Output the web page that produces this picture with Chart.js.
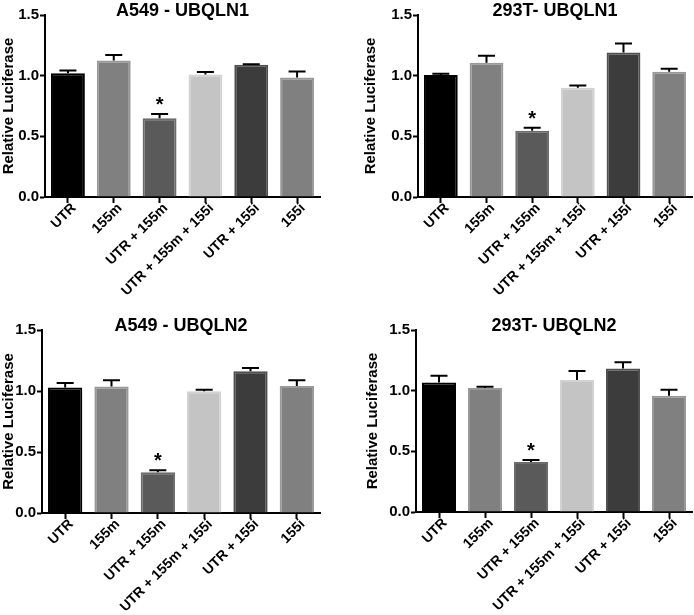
<!DOCTYPE html>
<html>
<head>
<meta charset="utf-8">
<script src="https://cdn.jsdelivr.net/npm/chart.js@4"></script>
<style>
    html, body { margin: 0; padding: 0; background: #ffffff; overflow: hidden; }
    body { width: 694px; height: 615px; position: relative; }
    canvas { position: absolute; }
</style>
</head>
<body>
<canvas id="p1"></canvas>
<canvas id="p2"></canvas>
<canvas id="p3"></canvas>
<canvas id="p4"></canvas>
<script>
// Groups on the x axis
const categories = ['UTR', '155m', 'UTR + 155m', 'UTR + 155m + 155i', 'UTR + 155i', '155i'];

// Mean relative luciferase and SEM per panel
const a549Ubqln1 = [1.02, 1.125, 0.65, 1.01, 1.09, 0.985];
const a549Ubqln1Err = [0.022, 0.045, 0.035, 0.02, 0.005, 0.05];

const t293Ubqln1 = [1.005, 1.107, 0.545, 0.90, 1.19, 1.033];
const t293Ubqln1Err = [0.01, 0.057, 0.025, 0.018, 0.075, 0.024];

const a549Ubqln2 = [1.028, 1.036, 0.334, 0.997, 1.161, 1.041];
const a549Ubqln2Err = [0.038, 0.052, 0.016, 0.014, 0.028, 0.047];

const t293Ubqln2 = [1.068, 1.022, 0.412, 1.088, 1.183, 0.959];
const t293Ubqln2Err = [0.055, 0.011, 0.017, 0.074, 0.052, 0.049];

// Groups marked with * (significant)
const significant = [2];

// Y axis ticks
const yTicks = [0, 0.5, 1.0, 1.5];

const barColors = ['#000000', '#808080', '#5a5a5a', '#c4c4c4', '#3c3c3c', '#808080'];
const barBorders = ['#000000', '#999999', '#6c6c6c', '#d2d2d2', '#505050', '#999999'];

const FONT = "'Liberation Sans', Arial, Helvetica, sans-serif";

// Draw SEM whiskers (upper only) and significance stars
const errorBarPlugin = {
    id: 'errorBars',
    afterDatasetsDraw(chart, args, opts) {
        const ctx = chart.ctx;
        const xs = chart.scales.x;
        const ys = chart.scales.y;
        const values = chart.data.datasets[0].data;
        ctx.save();
        ctx.strokeStyle = '#000000';
        ctx.lineWidth = 2;
        values.forEach((v, i) => {
            const px = xs.getPixelForValue(i);
            const base = ys.getPixelForValue(v);
            const top = ys.getPixelForValue(v + opts.errors[i]);
            ctx.beginPath();
            ctx.moveTo(px, base);
            ctx.lineTo(px, top);
            ctx.moveTo(px - 8.5, top);
            ctx.lineTo(px + 8.5, top);
            ctx.stroke();
        });
        ctx.fillStyle = '#000000';
        ctx.font = 'bold 20px ' + FONT;
        ctx.textAlign = 'center';
        ctx.textBaseline = 'alphabetic';
        opts.marks.forEach(i => {
            const px = xs.getPixelForValue(i);
            const top = ys.getPixelForValue(values[i] + opts.errors[i]);
            ctx.fillText('*', px, top - 3);
        });
        ctx.restore();
    }
};

function makePanel(id, box, title, values, errors) {
    const canvas = document.getElementById(id);
    canvas.width = box.width;
    canvas.height = box.height;
    canvas.style.left = box.left + 'px';
    canvas.style.top = box.top + 'px';
    canvas.style.width = box.width + 'px';
    canvas.style.height = box.height + 'px';

    return new Chart(canvas.getContext('2d'), {
        type: 'bar',
        data: {
            labels: categories,
            datasets: [{
                data: values,
                backgroundColor: barColors,
                borderColor: barBorders,
                borderWidth: 2,
                categoryPercentage: 1,
                barPercentage: 0.74
            }]
        },
        options: {
            responsive: false,
            animation: false,
            devicePixelRatio: 1,
            layout: { padding: { top: 7, right: 2, left: 0, bottom: 0 } },
            plugins: {
                legend: { display: false },
                tooltip: { enabled: false },
                title: {
                    display: true,
                    text: title,
                    color: '#000000',
                    fullSize: false,
                    padding: 0,
                    font: { family: FONT, size: 18, weight: 'bold', lineHeight: 8 / 18 }
                },
                errorBars: { errors: errors, marks: significant }
            },
            scales: {
                x: {
                    offset: true,
                    afterFit: function(scale) { scale.height = box.xAxisHeight; },
                    grid: {
                        display: true,
                        offset: false,
                        drawOnChartArea: false,
                        drawTicks: true,
                        tickLength: 6,
                        tickWidth: 2,
                        tickColor: '#000000'
                    },
                    border: { display: true, color: '#000000', width: 2 },
                    ticks: {
                        color: '#000000',
                        autoSkip: false,
                        maxRotation: 45,
                        minRotation: 45,
                        padding: -3,
                        labelOffset: 6,
                        font: { family: FONT, size: 14, weight: 'bold' }
                    }
                },
                y: {
                    min: 0,
                    max: 1.5,
                    afterFit: function(scale) { scale.width = box.yAxisWidth; },
                    afterBuildTicks: function(scale) {
                        scale.ticks = yTicks.map(v => ({ value: v }));
                    },
                    grid: {
                        display: true,
                        drawOnChartArea: false,
                        drawTicks: true,
                        tickLength: 5,
                        tickWidth: 2,
                        tickColor: '#000000'
                    },
                    border: { display: true, color: '#000000', width: 2 },
                    ticks: {
                        color: '#000000',
                        padding: 1,
                        font: { family: FONT, size: 15, weight: 'bold' },
                        callback: function(value) { return Number(value).toFixed(1); }
                    },
                    title: {
                        display: true,
                        text: 'Relative Luciferase',
                        color: '#000000',
                        padding: 0,
                        font: { family: FONT, size: 15, weight: 'bold', lineHeight: 1.2 }
                    }
                }
            }
        },
        plugins: [errorBarPlugin]
    });
}

makePanel('p1', { left: 0, top: 0, width: 322, height: 310, yAxisWidth: 45, xAxisHeight: 113 },
    'A549 - UBQLN1', a549Ubqln1, a549Ubqln1Err);
makePanel('p2', { left: 362, top: 0, width: 332, height: 310, yAxisWidth: 56, xAxisHeight: 113 },
    '293T- UBQLN1', t293Ubqln1, t293Ubqln1Err);
makePanel('p3', { left: 0, top: 315, width: 322, height: 300, yAxisWidth: 42, xAxisHeight: 102 },
    'A549 - UBQLN2', a549Ubqln2, a549Ubqln2Err);
makePanel('p4', { left: 364, top: 315, width: 330, height: 300, yAxisWidth: 52, xAxisHeight: 103 },
    '293T- UBQLN2', t293Ubqln2, t293Ubqln2Err);
</script>
</body>
</html>
